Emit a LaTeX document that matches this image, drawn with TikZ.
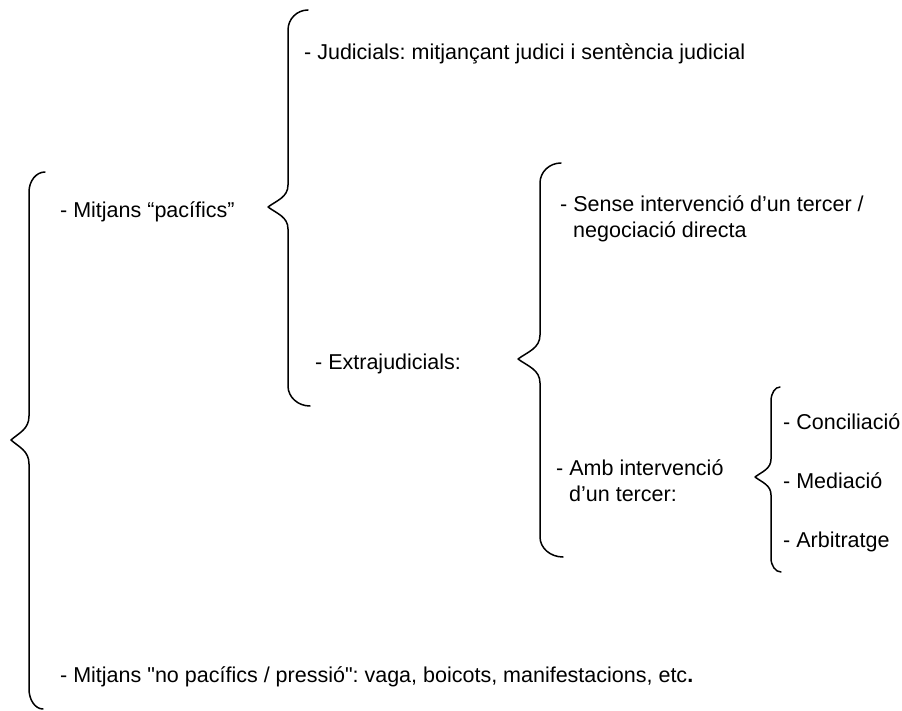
\documentclass[tikz,border=0pt]{standalone}
\usepackage{fontspec}
\setmainfont{Liberation Sans}[Ligatures=TeXOff]
\tikzset{
  bracestyle/.style={draw=black, line width=1.5pt, line cap=round, line join=round},
  txt/.style={inner sep=0pt, anchor=base west, font=\fontsize{21.5}{26}\selectfont\frenchspacing}
}
% #1 xe top, #2 ytop, #3 xline, #4 xtip, #5 ytip, #6 xe bottom, #7 ybottom, #8 curl radius, #9 tip height
\newcommand\mybrace[9]{%
  \draw[bracestyle] (#1,#2) .. controls ({#1-0.552*(#1-#3)},#2) and (#3,{#2+0.448*#8}) .. (#3,{#2+#8})
   -- (#3,{#5-#9}) .. controls (#3,{#5-0.45*#9}) and ({#4+0.45*(#3-#4)},{#5-0.3*#9}) .. (#4,#5)
   .. controls ({#4+0.45*(#3-#4)},{#5+0.3*#9}) and (#3,{#5+0.45*#9}) .. (#3,{#5+#9})
   -- (#3,{#7-#8}) .. controls (#3,{#7-0.448*#8}) and ({#6-0.552*(#6-#3)},#7) .. (#6,#7);}
\begin{document}
\begin{tikzpicture}[x=1pt,y=-1pt]
\useasboundingbox[fill=white] (0,0) rectangle (902,711);
% braces
\mybrace{45}{172}{29}{11}{440}{43}{709}{20}{24}
\mybrace{308}{10}{288}{268}{207}{310}{406}{20}{22}
\mybrace{561}{163}{540}{518}{359}{563}{557}{20}{24}
\mybrace{780}{387}{771}{755}{477}{781}{572}{14}{18}
% texts
\node[txt] (pac) at (60,218) {- Mitjans “pacífics”};
\node[txt] (jud) at (304,60) {- Judicials: mitjançant judici i sentència judicial};
\node[txt] (ext) at (315,369) {- Extrajudicials:};
\node[txt] (sen1) at (560,212) {- Sense intervenció d’un tercer /};
\node[txt] (sen2) at (573,238) {negociació directa};
\node[txt] (amb1) at (556,475) {- Amb intervenció};
\node[txt] (amb2) at (569,501) {d’un tercer:};
\node[txt] (con) at (783,429) {- Conciliació};
\node[txt] (med) at (783,488) {- Mediació};
\node[txt] (arb) at (783,547) {- Arbitratge};
\node[txt] (nop) at (60,682) {- Mitjans "no pacífics / pressió": vaga, boicots, manifestacions, etc{\bfseries .}};
\end{tikzpicture}
\end{document}
